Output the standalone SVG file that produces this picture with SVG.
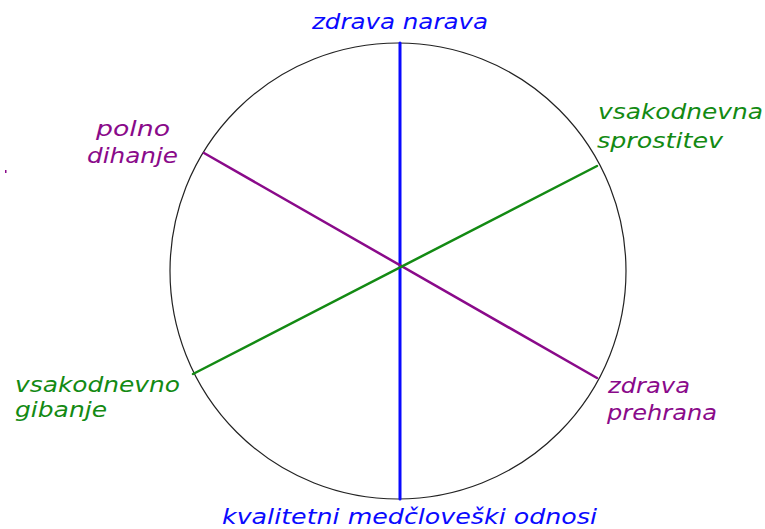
<svg xmlns="http://www.w3.org/2000/svg" width="765" height="529" viewBox="0 0 765 529">
<style>
text{font-family:"DejaVu Sans","Verdana",sans-serif;font-style:italic;font-size:21px}
.b{fill:#0a0aff}.p{fill:#8a0a8a}.g{fill:#138a13}
</style>
<rect width="765" height="529" fill="#fff"/>
<g id="circle"><circle cx="398" cy="271" r="228" fill="none" stroke="#222" stroke-width="1.2"/></g>
<g id="connectors" stroke-linecap="round">
<line x1="400" y1="43" x2="400" y2="499" stroke="#0a0aff" stroke-width="3"/>
<line x1="204" y1="153" x2="597" y2="378" stroke="#8a0a8a" stroke-width="2.5"/>
<line x1="193" y1="374" x2="597" y2="166" stroke="#138a13" stroke-width="2.5"/>
</g>
<g id="n-top"><text class="b" x="312" y="29" textLength="176" lengthAdjust="spacingAndGlyphs">zdrava narava</text></g>
<g id="n-bottom"><text class="b" x="222" y="524" textLength="375" lengthAdjust="spacingAndGlyphs">kvalitetni medčloveški odnosi</text></g>
<g id="n-tl"><text class="p" x="96" y="136" textLength="74" lengthAdjust="spacingAndGlyphs">polno</text><text class="p" x="87" y="163" textLength="91" lengthAdjust="spacingAndGlyphs">dihanje</text></g>
<g id="n-tr"><text class="g" x="598" y="119" textLength="165" lengthAdjust="spacingAndGlyphs">vsakodnevna</text><text class="g" x="597" y="148" textLength="126" lengthAdjust="spacingAndGlyphs">sprostitev</text></g>
<g id="n-bl"><text class="g" x="15" y="392" textLength="165" lengthAdjust="spacingAndGlyphs">vsakodnevno</text><text class="g" x="15" y="417" textLength="92" lengthAdjust="spacingAndGlyphs">gibanje</text></g>
<g id="n-br"><text class="p" x="608" y="393" textLength="82" lengthAdjust="spacingAndGlyphs">zdrava</text><text class="p" x="607" y="420" textLength="110" lengthAdjust="spacingAndGlyphs">prehrana</text></g>
<rect x="5" y="170" width="1.5" height="3" fill="#8a0a8a"/>
</svg>
